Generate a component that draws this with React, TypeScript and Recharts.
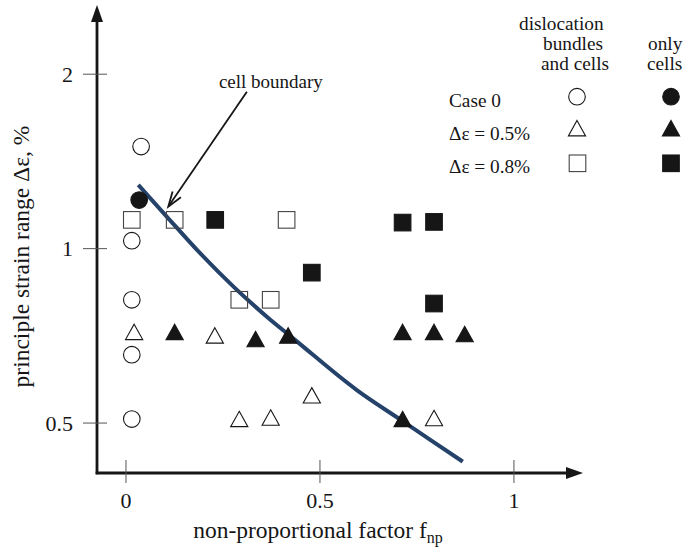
import React from 'react'
import { ComposedChart, XAxis, YAxis, Scatter, Line, ReferenceLine } from 'recharts'

const SERIF = '"Liberation Serif", "Times New Roman", serif'
const INK = '#161616'
const NAVY = '#25426a'

// axis ranges (log scale on y)
const X_MIN = -0.0747
const X_MAX = 1.178
const Y_MIN = 0.41
const Y_MAX = 2.633

const xTicks = [0, 0.5, 1]
const yTicks = [0.5, 1, 2]

// Case 0 (circles)
const case0Bundles = [
  { x: 0.039, y: 1.5 },
  { x: 0.015, y: 1.032 },
  { x: 0.015, y: 0.816 },
  { x: 0.015, y: 0.656 },
  { x: 0.015, y: 0.508 },
]
const case0Cells = [{ x: 0.034, y: 1.213 }]

// Δε = 0.5% (triangles)
const strain05Bundles = [
  { x: 0.021, y: 0.718 },
  { x: 0.229, y: 0.708 },
  { x: 0.292, y: 0.508 },
  { x: 0.373, y: 0.511 },
  { x: 0.479, y: 0.558 },
  { x: 0.794, y: 0.51 },
]
const strain05Cells = [
  { x: 0.1255, y: 0.718 },
  { x: 0.334, y: 0.698 },
  { x: 0.418, y: 0.708 },
  { x: 0.713, y: 0.718 },
  { x: 0.794, y: 0.718 },
  { x: 0.873, y: 0.712 },
  { x: 0.713, y: 0.508 },
]

// Δε = 0.8% (squares)
const strain08Bundles = [
  { x: 0.015, y: 1.121 },
  { x: 0.1255, y: 1.121 },
  { x: 0.414, y: 1.121 },
  { x: 0.292, y: 0.816 },
  { x: 0.373, y: 0.816 },
]
const strain08Cells = [
  { x: 0.23, y: 1.121 },
  { x: 0.713, y: 1.109 },
  { x: 0.794, y: 1.112 },
  { x: 0.479, y: 0.909 },
  { x: 0.794, y: 0.804 },
]

// cell boundary curve
const boundary = [
  { x: 0.0317, y: 1.288 },
  { x: 0.105, y: 1.136 },
  { x: 0.191, y: 0.982 },
  { x: 0.277, y: 0.86 },
  { x: 0.363, y: 0.763 },
  { x: 0.4356, y: 0.696 },
  { x: 0.595, y: 0.57 },
  { x: 0.7147, y: 0.503 },
  { x: 0.7835, y: 0.468 },
  { x: 0.868, y: 0.429 },
]

// annotation arrow: label end -> tip
const pointer = [
  { x: 0.3116, y: 1.866 },
  { x: 0.109, y: 1.181 },
]

const rowLabels = ['Case 0', 'Δε = 0.5%', 'Δε = 0.8%']

const circle = (filled: boolean) => (p: any) => (
  <circle cx={p.cx} cy={p.cy} r={8.3} fill={filled ? INK : 'none'} stroke={INK} strokeWidth={1.1} />
)
const square = (filled: boolean) => (p: any) => (
  <rect x={p.cx - 8.3} y={p.cy - 8.3} width={16.6} height={16.6} fill={filled ? INK : 'none'} stroke={filled ? INK : '#444'} strokeWidth={1.1} />
)
const triangle = (filled: boolean) => (p: any) => (
  <polygon
    points={`${p.cx},${p.cy - 7.8} ${p.cx + 8.6},${p.cy + 7.6} ${p.cx - 8.6},${p.cy + 7.6}`}
    fill={filled ? INK : 'none'}
    stroke={INK}
    strokeWidth={1.1}
  />
)

function AxisArrow(p: any) {
  const { x1, y1, x2, y2 } = p
  const dx = x2 - x1, dy = y2 - y1
  const len = Math.hypot(dx, dy)
  const ux = dx / len, uy = dy / len
  const L = 17, W = 6
  const bx = x2 - ux * L, by = y2 - uy * L
  return (
    <g>
      <line x1={x1 - ux * 1.3} y1={y1 - uy * 1.3} x2={bx + ux * 2} y2={by + uy * 2} stroke={INK} strokeWidth={2.8} />
      <polygon points={`${x2},${y2} ${bx - uy * W},${by + ux * W} ${bx + uy * W},${by - ux * W}`} fill={INK} />
    </g>
  )
}

function Pointer(p: any) {
  const { x1, y1, x2, y2 } = p
  const dx = x2 - x1, dy = y2 - y1
  const len = Math.hypot(dx, dy)
  const ux = dx / len, uy = dy / len
  const L = 15, W = 5
  const bx = x2 - ux * L, by = y2 - uy * L
  return (
    <g>
      <line x1={x1} y1={y1} x2={x2 - ux * 2} y2={y2 - uy * 2} stroke={INK} strokeWidth={1.8} />
      <polyline
        points={`${bx - uy * W},${by + ux * W} ${x2},${y2} ${bx + uy * W},${by - ux * W}`}
        fill="none"
        stroke={INK}
        strokeWidth={1.8}
      />
      <text x={x1 + 24} y={y1 - 4} textAnchor="middle" fontFamily={SERIF} fontSize={19} fill={INK}>
        cell boundary
      </text>
    </g>
  )
}

function XTick(p: any) {
  const { x, y, payload } = p
  return (
    <g>
      <line x1={x} y1={y - 13} x2={x} y2={y + 10} stroke="#555" strokeWidth={1} />
      <text x={x} y={y + 35} textAnchor="middle" fontFamily={SERIF} fontSize={22} fill={INK}>
        {payload.value}
      </text>
    </g>
  )
}

function YTick(p: any) {
  const { x, y, payload } = p
  return (
    <g>
      <line x1={x - 14} y1={y} x2={x + 10} y2={y} stroke="#555" strokeWidth={1} />
      <text x={x - 24} y={y + 7.5} textAnchor="end" fontFamily={SERIF} fontSize={22} fill={INK}>
        {payload.value}
      </text>
    </g>
  )
}

// legend drawn inside the chart svg
function LegendBox() {
  const t = { fontFamily: SERIF, fontSize: 19.3, fill: INK }
  return (
    <g>
      <text x={519} y={30} {...t}>dislocation</text>
      <text x={543} y={50} {...t}>bundles</text>
      <text x={541} y={70} {...t}>and cells</text>
      <text x={648} y={50} {...t}>only</text>
      <text x={647} y={70} {...t}>cells</text>
      <text x={449} y={106.5} {...t}>{rowLabels[0]}</text>
      <text x={449} y={140} {...t}>{rowLabels[1]}</text>
      <text x={449} y={173} {...t}>{rowLabels[2]}</text>
      {circle(false)({ cx: 577, cy: 96.7 })}
      {triangle(false)({ cx: 577, cy: 128.3 })}
      {square(false)({ cx: 577.5, cy: 163.3 })}
      {circle(true)({ cx: 671, cy: 96.7 })}
      {triangle(true)({ cx: 671, cy: 128.3 })}
      {square(true)({ cx: 671, cy: 163.3 })}
    </g>
  )
}

const XTitle = () => (
  <g>
    <text x={318} y={538} textAnchor="middle" fontFamily={SERIF} fontSize={23.5} fill={INK}>
      non-proportional factor f
      <tspan fontSize={16} dy={5}>np</tspan>
    </text>
    <LegendBox />
  </g>
)

const YTitle = () => (
  <text x={28.5} y={256.5} transform="rotate(-90, 28.5, 256.5)" textAnchor="middle" fontFamily={SERIF} fontSize={23.5} fill={INK}>
    principle strain range Δε, %
  </text>
)

export default function App() {
  return (
    <div style={{ width: 683, height: 548, background: '#fff' }}>
      <style>{'html, body { margin: 0; padding: 0; } #root { overflow: visible; }'}</style>
      <ComposedChart width={683} height={548} margin={{ top: 5, right: 100, bottom: 15, left: 0 }}>
        <XAxis
          type="number"
          dataKey="x"
          domain={[X_MIN, X_MAX]}
          ticks={xTicks}
          allowDataOverflow
          axisLine={false}
          tickLine={false}
          tickSize={0}
          tickMargin={0}
          height={60}
          tick={<XTick />}
          label={<XTitle />}
        />
        <YAxis
          type="number"
          dataKey="y"
          scale="log"
          domain={[Y_MIN, Y_MAX]}
          ticks={yTicks}
          allowDataOverflow
          axisLine={false}
          tickLine={false}
          tickSize={0}
          tickMargin={0}
          width={97}
          tick={<YTick />}
          label={<YTitle />}
        />
        <ReferenceLine segment={[{ x: X_MIN, y: Y_MIN }, { x: X_MAX, y: Y_MIN }]} ifOverflow="visible" shape={(p: any) => <AxisArrow {...p} />} />
        <ReferenceLine segment={[{ x: X_MIN, y: Y_MIN }, { x: X_MIN, y: Y_MAX }]} ifOverflow="visible" shape={(p: any) => <AxisArrow {...p} />} />
        <ReferenceLine segment={pointer} ifOverflow="visible" shape={(p: any) => <Pointer {...p} />} />
        <Line data={boundary} dataKey="y" type="monotone" stroke={NAVY} strokeWidth={4} dot={false} isAnimationActive={false} />
        <Scatter data={case0Bundles} dataKey="y" shape={circle(false)} isAnimationActive={false} />
        <Scatter data={case0Cells} dataKey="y" shape={circle(true)} isAnimationActive={false} />
        <Scatter data={strain05Bundles} dataKey="y" shape={triangle(false)} isAnimationActive={false} />
        <Scatter data={strain05Cells} dataKey="y" shape={triangle(true)} isAnimationActive={false} />
        <Scatter data={strain08Bundles} dataKey="y" shape={square(false)} isAnimationActive={false} />
        <Scatter data={strain08Cells} dataKey="y" shape={square(true)} isAnimationActive={false} />
      </ComposedChart>
    </div>
  )
}
